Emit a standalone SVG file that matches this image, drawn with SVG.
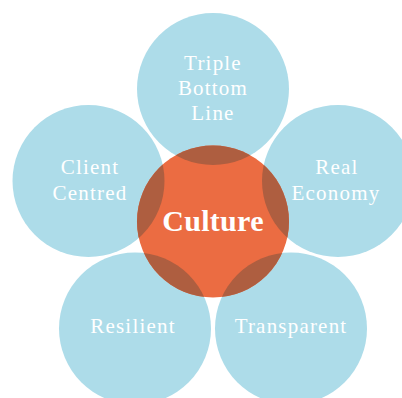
<svg xmlns="http://www.w3.org/2000/svg" width="402" height="398" viewBox="0 0 402 398">
<defs>
<style>
.outer{fill:#ADDCE9}
.core{fill:#EB6C42}
.ov{fill:#AE5E40}
.t{font-family:"Liberation Serif","Times New Roman",serif;font-size:21px;fill:#FFFFFF;text-anchor:middle;letter-spacing:1.2px}
.c{font-family:"Liberation Serif","Times New Roman",serif;font-size:30px;font-weight:bold;fill:#FFFFFF;text-anchor:middle;letter-spacing:0.3px}
</style>
<clipPath id="coreClip"><circle cx="213" cy="221.5" r="76"/></clipPath>
</defs>
<rect width="402" height="398" fill="#FFFFFF"/>
<g id="n-top"><circle class="outer" cx="213" cy="89" r="76"/></g>
<g id="n-left"><circle class="outer" cx="88.5" cy="181" r="76"/></g>
<g id="n-right"><circle class="outer" cx="338" cy="181" r="76"/></g>
<g id="n-bl"><circle class="outer" cx="135" cy="328.5" r="76"/></g>
<g id="n-br"><circle class="outer" cx="291" cy="328.5" r="76"/></g>
<g id="n-core"><circle class="core" cx="213" cy="221.5" r="76"/>
<g clip-path="url(#coreClip)">
<circle class="ov" cx="213" cy="89" r="76"/>
<circle class="ov" cx="88.5" cy="181" r="76"/>
<circle class="ov" cx="338" cy="181" r="76"/>
<circle class="ov" cx="135" cy="328.5" r="76"/>
<circle class="ov" cx="291" cy="328.5" r="76"/>
</g>
<text class="c" x="213" y="231">Culture</text>
</g>
<g id="labels">
<text class="t" x="213" y="70">Triple</text>
<text class="t" x="213" y="95">Bottom</text>
<text class="t" x="213" y="120">Line</text>
<text class="t" x="90" y="174">Client</text>
<text class="t" x="90" y="200">Centred</text>
<text class="t" x="337" y="174">Real</text>
<text class="t" x="336" y="200">Economy</text>
<text class="t" x="133" y="333">Resilient</text>
<text class="t" x="291" y="333">Transparent</text>
</g>
<g id="connectors"></g>
</svg>
